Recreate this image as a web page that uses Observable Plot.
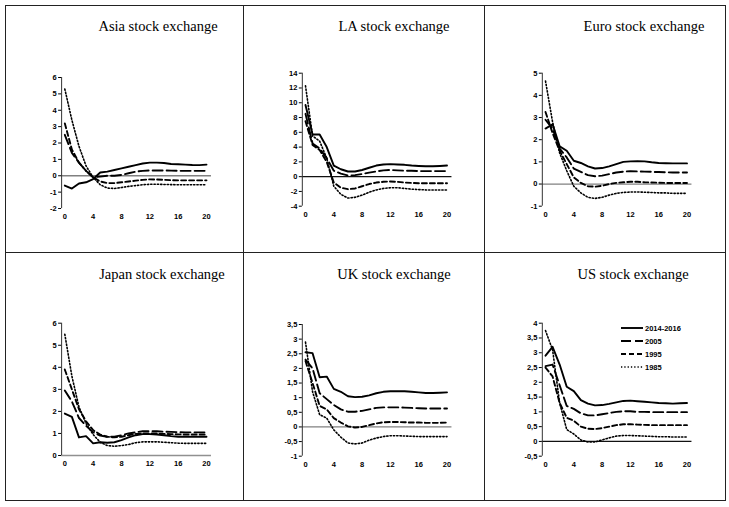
<!DOCTYPE html>
<html><head><meta charset="utf-8">
<script src="https://cdn.jsdelivr.net/npm/d3@7"></script>
<script src="https://cdn.jsdelivr.net/npm/@observablehq/plot@0.6"></script>
<style>
body{margin:0;background:#fff;}
#wrap{position:relative;width:729px;height:507px;overflow:hidden;background:#fff;}
.hl{position:absolute;height:1px;background:#222;}
.vl{position:absolute;width:1px;background:#222;}
.title{position:absolute;font-family:"Liberation Serif","Times New Roman",serif;font-size:14.5px;white-space:nowrap;transform:translateX(-50%);color:#000;}
.chart{position:absolute;}
.legend{position:absolute;}
</style>
</head><body>
<div id="wrap"></div>
<script>
// ---------- data ----------
const steps = [0,1,2,3,4,5,6,7,8,9,10,11,12,13,14,15,16,17,18,19,20];
const seriesNames = ["2014-2016","2005","1995","1985"];
const xTicks = [0,4,8,12,16,20];

const asia2014 = [-0.6,-0.78,-0.47,-0.4,-0.2,0.2,0.25,0.35,0.45,0.55,0.65,0.75,0.8,0.8,0.78,0.72,0.7,0.68,0.66,0.65,0.68];
const asia2005 = [2.5,1.4,0.8,0.3,-0.1,-0.05,0,0,0.05,0.15,0.25,0.3,0.32,0.32,0.32,0.31,0.3,0.3,0.3,0.3,0.3];
const asia1995 = [3.2,1.6,0.8,0.3,-0.1,-0.35,-0.45,-0.45,-0.4,-0.35,-0.3,-0.25,-0.22,-0.23,-0.25,-0.27,-0.28,-0.28,-0.28,-0.28,-0.28];
const asia1985 = [5.3,3.4,1.8,0.6,-0.1,-0.55,-0.75,-0.78,-0.72,-0.65,-0.6,-0.55,-0.52,-0.52,-0.53,-0.54,-0.55,-0.55,-0.55,-0.55,-0.55];

const la2014 = [9.7,5.7,5.7,4.0,1.5,1.0,0.7,0.7,0.9,1.2,1.5,1.65,1.7,1.65,1.6,1.5,1.45,1.4,1.4,1.45,1.5];
const la2005 = [8.5,4.5,3.8,2.5,0.8,0.4,0.15,0.2,0.35,0.55,0.7,0.85,0.9,0.85,0.8,0.8,0.75,0.75,0.75,0.75,0.75];
const la1995 = [7.5,4.3,3.6,2.0,-0.8,-1.5,-1.7,-1.6,-1.3,-1.0,-0.8,-0.7,-0.65,-0.7,-0.8,-0.85,-0.9,-0.9,-0.9,-0.9,-0.9];
const la1985 = [12.3,5.5,4.8,2.5,-1.3,-2.4,-2.9,-2.8,-2.5,-2.1,-1.8,-1.6,-1.5,-1.5,-1.6,-1.7,-1.75,-1.8,-1.8,-1.8,-1.8];

const eu2014 = [2.5,2.7,1.7,1.5,1.05,0.95,0.8,0.7,0.72,0.8,0.9,1.0,1.02,1.03,1.02,0.98,0.95,0.94,0.93,0.93,0.93];
const eu2005 = [2.9,2.5,1.6,1.2,0.7,0.55,0.4,0.35,0.38,0.45,0.52,0.56,0.58,0.57,0.56,0.55,0.54,0.53,0.52,0.52,0.52];
const eu1995 = [3.25,2.3,1.5,0.9,0.3,0.05,-0.1,-0.12,-0.08,0,0.05,0.08,0.1,0.1,0.08,0.07,0.06,0.05,0.05,0.05,0.05];
const eu1985 = [4.65,2.8,1.4,0.6,-0.1,-0.4,-0.6,-0.65,-0.6,-0.5,-0.42,-0.38,-0.36,-0.36,-0.37,-0.38,-0.4,-0.4,-0.42,-0.42,-0.42];

const jp2014 = [1.9,1.75,0.82,0.88,0.55,0.6,0.58,0.6,0.7,0.82,0.92,0.97,0.97,0.95,0.92,0.88,0.85,0.85,0.85,0.85,0.85];
const jp2005 = [2.95,2.45,1.7,1.35,1.05,0.9,0.85,0.85,0.92,1.0,1.05,1.1,1.1,1.1,1.08,1.07,1.06,1.05,1.05,1.05,1.05];
const jp1995 = [3.9,3.0,2.1,1.55,1.15,0.95,0.85,0.82,0.85,0.92,0.98,1.0,1.0,1.0,0.98,0.97,0.96,0.95,0.95,0.95,0.95];
const jp1985 = [5.5,3.6,2.2,1.45,0.95,0.6,0.45,0.42,0.45,0.5,0.58,0.62,0.62,0.62,0.6,0.58,0.56,0.55,0.55,0.55,0.55];

const uk2014 = [2.55,2.52,1.7,1.72,1.3,1.2,1.05,1.02,1.03,1.08,1.15,1.2,1.22,1.22,1.22,1.2,1.18,1.16,1.16,1.17,1.18];
const uk2005 = [2.3,2.0,1.15,0.95,0.75,0.6,0.52,0.52,0.55,0.6,0.65,0.67,0.67,0.67,0.66,0.65,0.64,0.63,0.63,0.63,0.63];
const uk1995 = [2.25,1.5,0.72,0.6,0.3,0.15,0.02,-0.02,0,0.06,0.12,0.16,0.17,0.17,0.16,0.15,0.15,0.14,0.14,0.14,0.15];
const uk1985 = [2.9,1.2,0.42,0.3,-0.1,-0.35,-0.55,-0.58,-0.55,-0.45,-0.38,-0.33,-0.3,-0.3,-0.31,-0.32,-0.33,-0.33,-0.33,-0.33,-0.33];

const us2014 = [2.9,3.2,2.6,1.85,1.7,1.4,1.28,1.22,1.23,1.27,1.32,1.37,1.38,1.36,1.34,1.32,1.3,1.29,1.28,1.29,1.3];
const us2005 = [2.55,2.6,1.9,1.2,1.1,0.95,0.88,0.88,0.92,0.96,1.0,1.02,1.02,1.0,1.0,0.99,0.99,0.99,0.99,0.99,0.99];
const us1995 = [2.5,2.2,1.3,0.8,0.7,0.5,0.43,0.42,0.45,0.5,0.55,0.58,0.58,0.57,0.56,0.55,0.55,0.55,0.55,0.55,0.55];
const us1985 = [3.75,3.1,1.3,0.4,0.25,0.05,-0.02,-0.02,0.05,0.12,0.18,0.2,0.2,0.19,0.18,0.17,0.16,0.16,0.15,0.15,0.15];

const panelTitles = ["Asia stock exchange","LA stock exchange","Euro stock exchange","Japan stock exchange","UK stock exchange","US stock exchange"];
const panelSeries = [
  [asia2014,asia2005,asia1995,asia1985],
  [la2014,la2005,la1995,la1985],
  [eu2014,eu2005,eu1995,eu1985],
  [jp2014,jp2005,jp1995,jp1985],
  [uk2014,uk2005,uk1995,uk1985],
  [us2014,us2005,us1995,us1985]
];
const yDomains = [[-2,6],[-4,14],[-1,5],[0,6],[-1,3.5],[-0.5,4]];
const yTickLists = [
  [-2,-1,0,1,2,3,4,5,6],
  [-4,-2,0,2,4,6,8,10,12,14],
  [-1,0,1,2,3,4,5],
  [0,1,2,3,4,5,6],
  [-1,-0.5,0,0.5,1,1.5,2,2.5,3,3.5],
  [-0.5,0,0.5,1,1.5,2,2.5,3,3.5,4]
];

// ---------- layout / style ----------
const dashes = [null,"10,4","5,3","1.3,2"];
const zeroColors = ["#808080","#111","#808080","#909090","#808080","#111"];
const colX = [5,243,484], rowY = [5,252];
const xPix = [[64.3,206],[305,446.5],[545,686.5]];            // pixel of x=0 and x=20
const yPix = [[77,208],[72.7,205.7],[72.7,205.7],[322.7,455],[324,455.7],[322.7,455.7]]; // top / bottom
const titlePos = [[158,18],[394,18],[644,18],[162,266],[394,266],[633,266]];
const XMIN = -0.45, XMAX = 20.7;

const wrap = document.getElementById("wrap");
[[5,5,720],[5,252,720],[5,500,720]].forEach(([x,y,w])=>{const d=document.createElement("div");d.className="hl";d.style.left=x+"px";d.style.top=y+"px";d.style.width=w+"px";wrap.appendChild(d);});
[[5,5,496],[243,5,496],[484,5,496],[725,5,496]].forEach(([x,y,h])=>{const d=document.createElement("div");d.className="vl";d.style.left=x+"px";d.style.top=y+"px";d.style.height=h+"px";wrap.appendChild(d);});

const fmt = d => String(d).replace(".", ",");

panelTitles.forEach((title, i) => {
  const c = i % 3, r = Math.floor(i / 3);
  const t = document.createElement("div");
  t.className = "title"; t.textContent = title;
  t.style.left = titlePos[i][0] + "px"; t.style.top = titlePos[i][1] + "px";
  wrap.appendChild(t);

  const svgL = colX[c] + 2, svgT = rowY[r] + 40, W = 232, H = 200;
  const unit = (xPix[c][1] - xPix[c][0]) / 20;
  const left = xPix[c][0] + XMIN * unit, right = xPix[c][0] + XMAX * unit;
  const rows = [];
  panelSeries[i].forEach((vals, s) => vals.forEach((v, k) => rows.push({t: steps[k], v, s: seriesNames[s]})));
  const lines = seriesNames.map((name, s) => Plot.line(rows.filter(d => d.s === name), {
    x: "t", y: "v", stroke: "#000", strokeWidth: s === 3 ? 1.6 : 1.9,
    strokeDasharray: dashes[s] || undefined, strokeLinejoin: "round"
  }));
  const chart = Plot.plot({
    width: W, height: H,
    marginLeft: left - svgL, marginRight: svgL + W - right,
    marginTop: yPix[i][0] - svgT, marginBottom: svgT + H - yPix[i][1],
    x: {domain: [XMIN, XMAX]},
    y: {domain: yDomains[i]},
    style: {fontFamily: "'Liberation Sans', Arial, sans-serif", fontSize: "7.5px", fontWeight: "bold", background: "transparent", overflow: "visible", color: "#000"},
    marks: [
      Plot.ruleY([0], {stroke: zeroColors[i], strokeWidth: 1.3}),
      Plot.ruleX([XMIN], {stroke: "#333", strokeWidth: 1}),
      Plot.axisY({ticks: yTickLists[i], tickSize: 3, tickPadding: 2, tickFormat: fmt, label: null}),
      Plot.axisX({ticks: xTicks, tickSize: 0, tickPadding: 5, tickFormat: d => String(d), label: null}),
      ...lines
    ]
  });
  chart.classList.add("chart");
  chart.style.left = svgL + "px"; chart.style.top = svgT + "px";
  wrap.appendChild(chart);
});

// legend in US panel
const lg = d3.select(wrap).append("svg").attr("class","legend")
  .attr("width", 80).attr("height", 60)
  .style("left", "618px").style("top", "320px");
seriesNames.forEach((name, s) => {
  const y = 8 + s * 13;
  lg.append("line").attr("x1", 3).attr("x2", 25).attr("y1", y).attr("y2", y)
    .attr("stroke", "#000").attr("stroke-width", s === 3 ? 1.6 : 1.9)
    .attr("stroke-dasharray", dashes[s] || null);
  lg.append("text").attr("x", 27).attr("y", y).attr("dy", "0.35em")
    .attr("font-family", "'Liberation Sans', Arial, sans-serif").attr("font-size", "7.5px")
    .attr("font-weight", "bold").text(name);
});
</script>
</body></html>
